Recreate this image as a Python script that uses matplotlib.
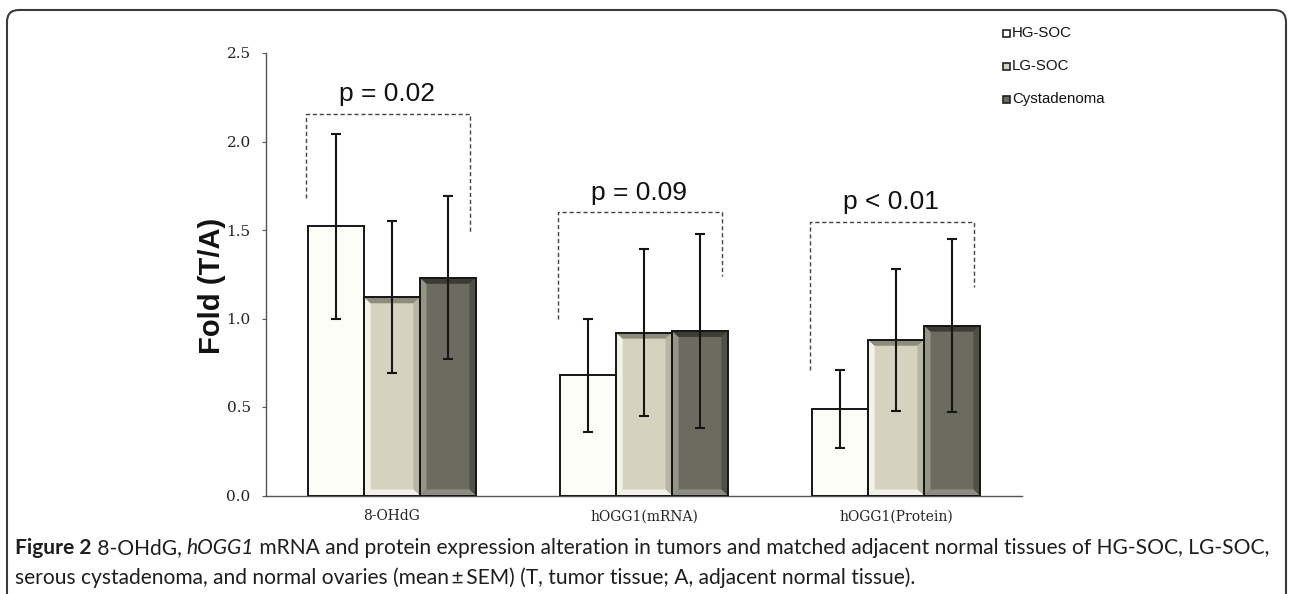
import numpy as np
import matplotlib
matplotlib.use('Agg')
import matplotlib.pyplot as plt
from matplotlib.patches import FancyBboxPatch, Rectangle
from matplotlib.transforms import IdentityTransform

# fold change tumour / adjacent tissue
groups = ['8-OHdG', 'hOGG1(mRNA)', 'hOGG1(Protein)']
series = ['HG-SOC', 'LG-SOC', 'Cystadenoma']
hg_mean = [1.52, 0.68, 0.49]
hg_err = [0.52, 0.32, 0.22]
lg_mean = [1.12, 0.92, 0.88]
lg_err = [0.43, 0.47, 0.40]
cy_mean = [1.23, 0.93, 0.96]
cy_err = [0.46, 0.55, 0.49]
# significance brackets
p_text = ['p = 0.02', 'p = 0.09', 'p < 0.01']
bracket_top = [2.155, 1.60, 1.545]
bracket_left = [1.68, 1.00, 0.71]
bracket_right = [1.49, 1.24, 1.18]
p_y = [2.27, 1.71, 1.66]
yticks = [0.0, 0.5, 1.0, 1.5, 2.0, 2.5]

W, H = 1292, 594
fig = plt.figure(figsize=(W/100, H/100), dpi=100)
ax = fig.add_axes([266/W, 1-495.5/H, 756/W, 442.5/H])
ax.set_xlim(0, 3)
ax.set_ylim(0, 2.5)

x = np.arange(len(groups)) + 0.5
w = 0.222
means = [hg_mean, lg_mean, cy_mean]
errs = [hg_err, lg_err, cy_err]
face = ['#fdfdf8', '#d5d3bf', '#6b6b5f']
# left, top, right, bottom bevel colours
bevels = [None,
          ['#f4f3e9', '#8e8c7b', '#b8b6a2', '#f2f1e7'],
          ['#949488', '#3c3c35', '#505047', '#8c8c80']]

def bevel(ax, x0, x1, h, cols):
    bx, by = 0.026, 0.034
    cl, ct, cr, cb = cols
    ax.fill([x0, x0+bx, x0+bx, x0], [0, by, h-by, h], color=cl, lw=0, zorder=2.5)
    ax.fill([x1, x1, x1-bx, x1-bx], [h, 0, by, h-by], color=cr, lw=0, zorder=2.5)
    ax.fill([x0, x1, x1-bx, x0+bx], [0, 0, by, by], color=cb, lw=0, zorder=2.5)
    ax.fill([x0, x1, x1-bx, x0+bx], [h, h, h-by, h-by], color=ct, lw=0, zorder=2.5)

for i in range(3):
    xs = x + (i-1)*w
    ax.bar(xs, means[i], w, color=face[i], linewidth=0, zorder=2)
    if bevels[i] is not None:
        for xx, m in zip(xs, means[i]):
            bevel(ax, xx-w/2, xx+w/2, m, bevels[i])
    ax.bar(xs, means[i], w, fill=False, edgecolor='#151515', linewidth=1.4, zorder=3)
    ax.errorbar(xs, means[i], yerr=errs[i], fmt='none', ecolor='#151515',
                elinewidth=1.5, capsize=3.5, capthick=1.5, zorder=4)

for j in range(3):
    xl = x[j] - 0.34
    xr = x[j] + 0.31
    ax.plot([xl, xl, xr, xr], [bracket_left[j], bracket_top[j], bracket_top[j], bracket_right[j]],
            ls=(0, (3, 2)), color='#444444', lw=1.0, zorder=1)
    ax.text(x[j]-0.02, p_y[j], p_text[j], ha='center', va='center', fontsize=19,
            family='Liberation Sans', color='#111111')

for s in ['top', 'right']:
    ax.spines[s].set_visible(False)
for s in ['left', 'bottom']:
    ax.spines[s].set_color('#555555')
    ax.spines[s].set_linewidth(1.0)
ax.set_yticks(yticks)
ax.set_yticklabels(['%.1f' % v for v in yticks], family='DejaVu Serif', fontsize=11, color='#222222')
ax.tick_params(axis='y', direction='out', length=3, color='#555555', pad=8)
ax.set_xticks(x)
ax.set_xticklabels(groups, family='DejaVu Serif', fontsize=10, color='#222222')
ax.tick_params(axis='x', length=0, pad=10)

fig.text(212/W, 1-286/H, 'Fold (T/A)', rotation=90, ha='center', va='center',
         fontsize=21, weight='bold', family='Liberation Sans', color='#111111')

# legend, drawn by hand at the top right
leg_y = [33, 66, 99]
leg_face = ['#ffffff', '#d5d3bf', '#6b6b5f']
for k in range(3):
    fig.add_artist(Rectangle((1003/W, 1-(leg_y[k]+3.5)/H), 7/W, 7/H, transform=fig.transFigure,
                             facecolor=leg_face[k], edgecolor='#222222', lw=1.2))
    fig.text(1012/W, 1-leg_y[k]/H, series[k], ha='left', va='center', fontsize=10.8,
             family='Liberation Sans', color='#111111')

# rounded frame, open at the bottom
fig.add_artist(FancyBboxPatch((7, -30), 1279, 614, boxstyle='round,pad=0,rounding_size=12',
                              transform=IdentityTransform(), facecolor='none',
                              edgecolor='#3a3a3a', lw=1.5))

# caption, mixed bold / italic pieces on line 1
cap_font = 'Lato'
line1 = [('Figure 2', 'bold', 'normal'), (' 8-OHdG, ', 'normal', 'normal'),
         ('hOGG1', 'normal', 'italic'),
         (' mRNA and protein expression alteration in tumors and matched adjacent normal tissues of HG-SOC, LG-SOC,',
          'normal', 'normal')]
line2 = 'serous cystadenoma, and normal ovaries (mean\u2009\u00b1\u2009SEM) (T, tumor tissue; A, adjacent normal tissue).'

r = fig.canvas.get_renderer()
base = 14
tot = 0
for txt, wt, st in line1:
    t = fig.text(0, 0, txt, fontsize=base, weight=wt, style=st, family=[cap_font, 'DejaVu Sans'])
    tot += t.get_window_extent(r).width
    t.remove()
fs = base * 1258 / tot

xpos = 15
for txt, wt, st in line1:
    t = fig.text(xpos/W, 1-548/H, txt, fontsize=fs, weight=wt, style=st,
                 family=[cap_font, 'DejaVu Sans'], va='center', ha='left', color='#1e1e1e')
    xpos += t.get_window_extent(r).width
fig.text(15/W, 1-578/H, line2, fontsize=fs, family=[cap_font, 'DejaVu Sans'],
         va='center', ha='left', color='#1e1e1e')

fig.savefig('out.png', dpi=100)
